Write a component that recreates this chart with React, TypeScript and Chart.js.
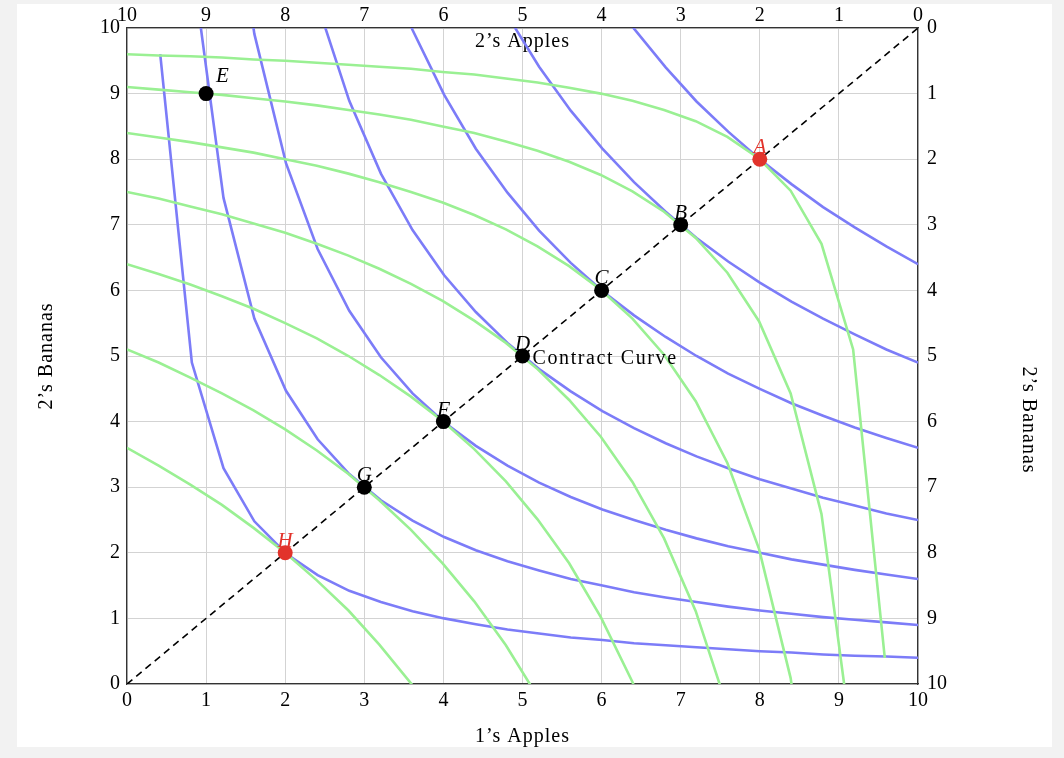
import React, { useEffect, useRef } from 'react';
import { Chart, registerables } from 'chart.js';

Chart.register(...registerables);

// ---- data ----
const tickLabels = ['0', '1', '2', '3', '4', '5', '6', '7', '8', '9', '10'];

// apples (sample positions) at which the indifference curves were drawn
const sampleX = [0.42, 0.82, 1.22, 1.61, 2.01, 2.41, 2.81, 3.21, 3.61, 4.01, 4.41, 4.81, 5.21, 5.61, 6.01, 6.41, 6.81, 7.2, 7.6, 8.0, 8.4, 8.8, 9.2, 9.6, 10.0];

// bananas on each indifference curve (same for person 1 and person 2, in own coordinates)
const curveU4 = [9.6, 4.9, 3.29, 2.48, 1.99, 1.66, 1.42, 1.25, 1.11, 1.0, 0.91, 0.83, 0.77, 0.71, 0.67, 0.62, 0.59, 0.56, 0.53, 0.5, 0.48, 0.45, 0.43, 0.42, 0.4];
const curveU9 = [null, 11.03, 7.41, 5.57, 4.47, 3.73, 3.2, 2.8, 2.49, 2.24, 2.04, 1.87, 1.73, 1.6, 1.5, 1.4, 1.32, 1.25, 1.18, 1.12, 1.07, 1.02, 0.98, 0.94, 0.9];
const curveU16 = [null, null, 13.17, 9.91, 7.94, 6.63, 5.69, 4.98, 4.43, 3.99, 3.63, 3.33, 3.07, 2.85, 2.66, 2.5, 2.35, 2.22, 2.1, 2.0, 1.9, 1.82, 1.74, 1.67, 1.6];
const curveU25 = [null, null, null, null, null, 10.36, 8.89, 7.78, 6.92, 6.23, 5.67, 5.2, 4.8, 4.46, 4.16, 3.9, 3.67, 3.47, 3.29, 3.12, 2.98, 2.84, 2.72, 2.6, 2.5];
const curveU36 = [null, null, null, null, null, null, null, 11.21, 9.97, 8.98, 8.16, 7.49, 6.91, 6.42, 5.99, 5.62, 5.29, 5.0, 4.73, 4.5, 4.28, 4.09, 3.91, 3.75, 3.6];
const curveU49 = [null, null, null, null, null, null, null, null, null, null, null, 10.19, 9.41, 8.74, 8.16, 7.65, 7.2, 6.8, 6.44, 6.12, 5.83, 5.57, 5.33, 5.1, 4.9];
const curveU64 = [null, null, null, null, null, null, null, null, null, null, null, null, null, null, 10.65, 9.99, 9.4, 8.88, 8.42, 8.0, 7.62, 7.27, 6.96, 6.67, 6.4];
const indifferenceCurves = [curveU4, curveU9, curveU16, curveU25, curveU36, curveU49, curveU64];

// allocations (1's apples, 2's bananas axis)
const pointNames = ['A', 'B', 'C', 'D', 'E', 'F', 'G', 'H'];
const pointX = [8, 7, 6, 5, 1, 4, 3, 2];
const pointY = [8, 7, 6, 5, 9, 4, 3, 2];
const pointKinds = ['red', 'black', 'black', 'black', 'black', 'black', 'black', 'red'];

const contractX = [0, 10];
const contractY = [0, 10];
const contractLabel = 'Contract Curve';
const contractLabelAt = 'D';

// ---- styles ----
const BLUE = '#7c7cf8';
const GREEN = '#9af093';
const RED = '#e2332b';
const SERIF = '"Liberation Serif", "Times New Roman", serif';
const colorOf = (k: string) => (k === 'red' ? RED : '#000000');

export default function App() {
  const ref = useRef<HTMLCanvasElement | null>(null);

  useEffect(() => {
    const canvas = ref.current;
    if (!canvas) return;

    const toPoints = (ys: (number | null)[]) =>
      sampleX
        .map((x, i) => ({ x, y: ys[i] }))
        .filter((p) => p.y !== null) as { x: number; y: number }[];

    const datasets: any[] = [];
    datasets.push({
      label: 'allocations',
      data: pointX.map((x, i) => ({ x, y: pointY[i] })),
      xAxisID: 'x',
      yAxisID: 'y',
      showLine: false,
      pointRadius: 7.5,
      pointHoverRadius: 7.5,
      pointBorderWidth: 0,
      pointBackgroundColor: pointKinds.map(colorOf),
      order: 0,
    });
    datasets.push({
      label: 'contract',
      data: contractX.map((x, i) => ({ x, y: contractY[i] })),
      xAxisID: 'x',
      yAxisID: 'y',
      showLine: true,
      borderColor: '#000000',
      borderWidth: 1.6,
      borderDash: [7, 5],
      pointRadius: 0,
      order: 1,
    });
    indifferenceCurves.forEach((ys, i) => {
      datasets.push({
        label: 'person2-' + i,
        data: toPoints(ys),
        xAxisID: 'x2',
        yAxisID: 'y2',
        showLine: true,
        borderColor: GREEN,
        borderWidth: 2.6,
        pointRadius: 0,
        tension: 0,
        order: 2,
      });
    });
    indifferenceCurves.forEach((ys, i) => {
      datasets.push({
        label: 'person1-' + i,
        data: toPoints(ys),
        xAxisID: 'x',
        yAxisID: 'y',
        showLine: true,
        borderColor: BLUE,
        borderWidth: 2.6,
        pointRadius: 0,
        tension: 0,
        order: 3,
      });
    });

    const tickFont = { family: SERIF, size: 20 };
    const tickCb = (v: any) => tickLabels[Math.round(Number(v))];
    const border = { display: true, color: '#333333', width: 1.3 };

    const decor = {
      id: 'decor',
      beforeDraw(chart: any) {
        const ctx = chart.ctx;
        ctx.save();
        ctx.fillStyle = '#f2f2f2';
        ctx.fillRect(0, 0, chart.width, chart.height);
        ctx.fillStyle = '#ffffff';
        ctx.fillRect(17, 4, 1035, 743);
        ctx.restore();
      },
      beforeDatasetsDraw(chart: any) {
        const ctx = chart.ctx;
        const a = chart.chartArea;
        const cx = (a.left + a.right) / 2;
        const cy = (a.top + a.bottom) / 2;
        ctx.save();
        ctx.fillStyle = '#000';
        ctx.font = `20px ${SERIF}`;
        (ctx as any).letterSpacing = '1px';
        ctx.textAlign = 'center';
        ctx.textBaseline = 'alphabetic';
        ctx.fillText('1\u2019s Apples', cx, a.bottom + 58);
        ctx.fillText('2\u2019s Apples', cx, a.top + 19);
        ctx.save();
        ctx.translate(a.left - 75, cy);
        ctx.rotate(-Math.PI / 2);
        ctx.fillText('2\u2019s Bananas', 0, 0);
        ctx.restore();
        ctx.save();
        ctx.translate(a.right + 105, cy + 64);
        ctx.rotate(Math.PI / 2);
        ctx.fillText('2\u2019s Bananas', 0, 0);
        ctx.restore();
        ctx.restore();
      },
      afterDatasetsDraw(chart: any) {
        const ctx = chart.ctx;
        const xs = chart.scales.x;
        const ys = chart.scales.y;
        ctx.save();
        ctx.textBaseline = 'alphabetic';
        pointNames.forEach((name, i) => {
          const px = xs.getPixelForValue(pointX[i]);
          const py = ys.getPixelForValue(pointY[i]);
          ctx.fillStyle = colorOf(pointKinds[i]);
          ctx.font = `italic 21px ${SERIF}`;
          (ctx as any).letterSpacing = '0px';
          if (name === 'E') {
            ctx.textAlign = 'left';
            ctx.fillText(name, px + 10, py - 12);
          } else {
            ctx.textAlign = 'center';
            ctx.fillText(name, px, py - 6);
          }
          if (name === contractLabelAt) {
            ctx.fillStyle = '#000';
            ctx.font = `20px ${SERIF}`;
            (ctx as any).letterSpacing = '1.6px';
            ctx.textAlign = 'left';
            ctx.fillText(contractLabel, px + 10, py + 8);
          }
        });
        ctx.restore();
      },
    };

    const chart = new Chart(canvas, {
      type: 'scatter',
      data: { datasets },
      options: {
        animation: false,
        responsive: false,
        devicePixelRatio: 1,
        layout: { padding: 0 },
        plugins: { legend: { display: false }, tooltip: { enabled: false } },
        events: [],
        scales: {
          x: {
            type: 'linear',
            position: 'bottom',
            min: 0,
            max: 10,
            ticks: { stepSize: 1, color: '#000', font: tickFont, padding: 5, callback: tickCb, maxRotation: 0, autoSkip: false },
            grid: { color: '#d3d3d3', lineWidth: 1, drawTicks: false },
            border,
            afterFit: (s: any) => {
              s.height = 74;
            },
          },
          x2: {
            type: 'linear',
            position: 'top',
            reverse: true,
            min: 0,
            max: 10,
            ticks: { stepSize: 1, color: '#000', font: tickFont, padding: 0, callback: tickCb, maxRotation: 0, autoSkip: false },
            grid: { display: false, drawTicks: false },
            border,
            afterFit: (s: any) => {
              s.height = 28;
            },
          },
          y: {
            type: 'linear',
            position: 'left',
            min: 0,
            max: 10,
            ticks: { stepSize: 1, color: '#000', font: tickFont, padding: 7, callback: tickCb, autoSkip: false },
            grid: { color: '#d3d3d3', lineWidth: 1, drawTicks: false },
            border,
            afterFit: (s: any) => {
              s.width = 127;
            },
          },
          y2: {
            type: 'linear',
            position: 'right',
            reverse: true,
            min: 0,
            max: 10,
            ticks: { stepSize: 1, color: '#000', font: tickFont, padding: 9, callback: tickCb, autoSkip: false },
            grid: { display: false, drawTicks: false },
            border,
            afterFit: (s: any) => {
              s.width = 146;
            },
          },
        },
      } as any,
      plugins: [decor],
    });

    return () => chart.destroy();
  }, []);

  return (
    <canvas
      ref={ref}
      width={1064}
      height={758}
      style={{ position: 'fixed', left: 0, top: 0, width: 1064, height: 758, display: 'block' }}
    />
  );
}
